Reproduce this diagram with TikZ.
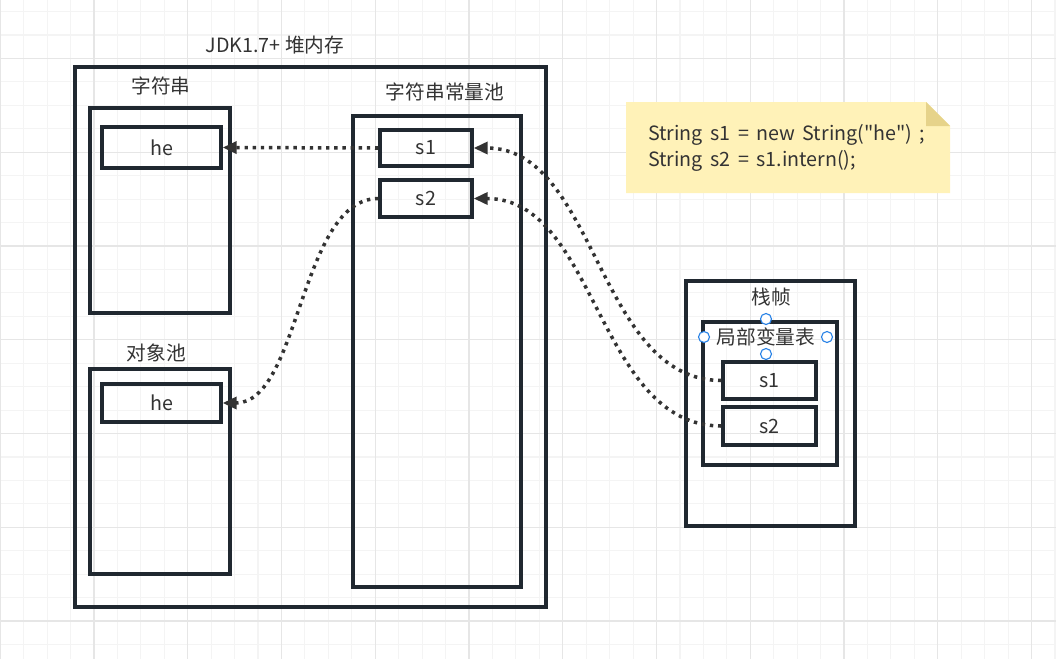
\documentclass[tikz,border=0pt]{standalone}
\usepackage{fontspec}
\setmainfont{Noto Sans CJK SC}
\newfontfamily\codefont{Noto Sans CJK SC}
\usepackage{tikz}
\usetikzlibrary{arrows.meta}
\definecolor{boxline}{RGB}{32,40,48}
\definecolor{txt}{RGB}{51,51,51}
\definecolor{gridminor}{RGB}{244,244,244}
\definecolor{gridmajor}{RGB}{230,230,230}
\definecolor{notefill}{RGB}{255,242,184}
\definecolor{notefold}{RGB}{230,211,138}
\definecolor{handle}{RGB}{40,130,230}
\newcommand{\codeface}{\codefont\fontsize{14}{18.5}\selectfont\spaceskip=5.3pt\relax}

\begin{document}
\begin{tikzpicture}[x=0.025cm,y=-0.025cm,
    box/.style={draw=boxline,line width=2.3pt},
    cell/.style={draw=boxline,line width=2.3pt,minimum width=#1,inner sep=0pt,text=txt,font=\fontsize{14}{16}\selectfont},
    lbl/.style={text=txt,inner sep=0pt,font=\fontsize{14}{16}\selectfont},
    ref/.style={draw=txt,line width=2.5pt,dash pattern=on 2.4pt off 3.4pt,-{Triangle[length=10pt,width=8.5pt]}},
    hnd/.style={draw=handle,fill=white,line width=0.8pt}]
  \useasboundingbox (0,0) rectangle (1056,659);
  \fill[white] (0,0) rectangle (1056,659);
  \foreach \i in {0,...,45} \draw[gridminor,line width=0.8pt] (0.2+23.44*\i,0) -- (0.2+23.44*\i,659);
  \foreach \j in {0,...,28} \draw[gridminor,line width=0.8pt] (0,11.6+23.44*\j) -- (1056,11.6+23.44*\j);
  \foreach \i in {0,...,11} \draw[gridmajor,line width=0.8pt] (0.2+93.75*\i,0) -- (0.2+93.75*\i,659);
  \foreach \j in {0,...,6} \draw[gridmajor,line width=0.8pt] (0,58.5+93.75*\j) -- (1056,58.5+93.75*\j);

  \node[lbl] (heap) at (275,45) {JDK1.7+ 堆内存};
  \draw[box] (75,67) rectangle (546,607);

  \node[lbl] (strlbl) at (161,86) {字符串};
  \draw[box] (90,108) rectangle (230,313);
  \node[cell=2.975cm,minimum height=1.025cm] (he1) at (161.5,147.5) {he};

  \node[lbl] (objlbl) at (156.5,353) {对象池};
  \draw[box] (90,369) rectangle (230,574);
  \node[cell=2.975cm,minimum height=0.95cm] (he2) at (161.5,403) {he};

  \node[lbl] (poollbl) at (445,92) {字符串常量池};
  \draw[box] (353,116) rectangle (521,587);
  \node[cell=2.3cm,minimum height=0.9cm] (ps1) at (426,148) {s1};
  \node[cell=2.3cm,minimum height=0.925cm] (ps2) at (426,198.5) {s2};

  \fill[notefill] (626,102) -- (926,102) -- (950,126) -- (950,193) -- (626,193) -- cycle;
  \fill[notefold] (926,102) -- (950,126) -- (926,126) -- cycle;
  \node[lbl,anchor=west,align=left,font=\codeface] (code) at (648,148)
    {String s1 = new String("he") ;\\String s2 = s1.intern();};

  \draw[box] (686,281) rectangle (855,526);
  \node[lbl] (framelbl) at (771,297) {栈帧};
  \draw[box] (703,322) rectangle (837,465);
  \node[lbl] (localslbl) at (766,337) {局部变量表};
  \node[cell=2.325cm,minimum height=0.925cm] (fs1) at (769.5,380.5) {s1};
  \node[cell=2.325cm,minimum height=0.95cm] (fs2) at (769.5,426) {s2};
  \draw[hnd] (766,319) circle (5.5);
  \draw[hnd] (766,354) circle (5.5);
  \draw[hnd] (704,337) circle (5.5);
  \draw[hnd] (827,337) circle (5.5);

  \draw[ref] (ps1.west) -- (he1.east);
  \draw[ref] (ps2.west) .. controls (300,198.5) and (300,403) .. (he2.east);
  \draw[ref] (fs1.west) .. controls (597,380.5) and (597,148) .. (ps1.east);
  \draw[ref] (fs2.west) .. controls (597,426) and (597,198.5) .. (ps2.east);
\end{tikzpicture}
\end{document}
